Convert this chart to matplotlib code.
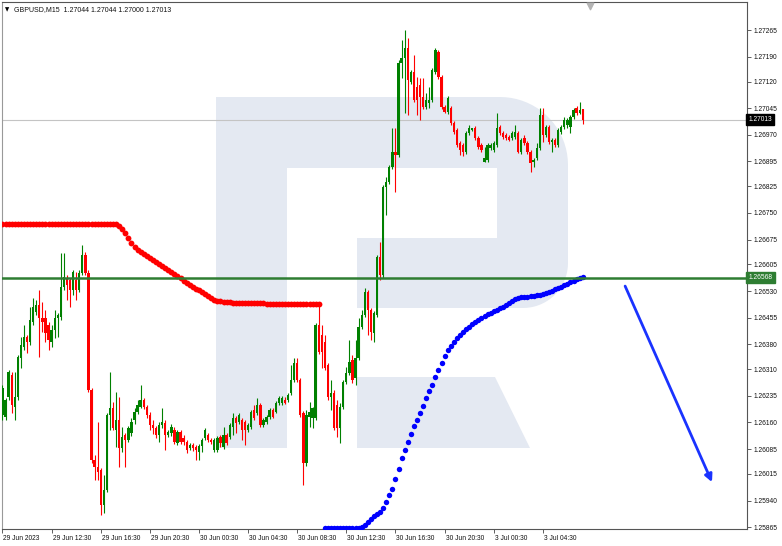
import numpy as np
import matplotlib
matplotlib.use("Agg")
import matplotlib.pyplot as plt
import matplotlib.transforms as mtransforms
from matplotlib.patches import Polygon

plt.rcParams['font.family'] = ['Liberation Sans', 'DejaVu Sans']

symbol = "GBPUSD,M15"

# M15 candles, 29 Jun 08:30 -> 3 Jul 08:00
opens = [
    1.26181, 1.26175, 1.26231, 1.26294, 1.26203, 1.26231, 1.26341, 1.26372, 1.26400, 1.26386,
    1.26443, 1.26471, 1.26491, 1.26454, 1.26454, 1.26435, 1.26386, 1.26420, 1.26454, 1.26457,
    1.26541, 1.26566, 1.26561, 1.26533, 1.26561, 1.26533, 1.26581, 1.26632, 1.26581, 1.26251,
    1.26054, 1.26034, 1.26026, 1.25928, 1.25970, 1.26181, 1.26200, 1.26139, 1.26167, 1.26088,
    1.26125, 1.26111, 1.26131, 1.26167, 1.26189, 1.26203, 1.26223, 1.26203, 1.26181, 1.26153,
    1.26144, 1.26125, 1.26153, 1.26159, 1.26125, 1.26131, 1.26139, 1.26103, 1.26133, 1.26116,
    1.26105, 1.26088, 1.26097, 1.26091, 1.26076, 1.26094, 1.26116, 1.26125, 1.26111, 1.26082,
    1.26082, 1.26119, 1.26091, 1.26125, 1.26119, 1.26147, 1.26172, 1.26161, 1.26167, 1.26161,
    1.26139, 1.26147, 1.26195, 1.26187, 1.26209, 1.26153, 1.26161, 1.26175, 1.26195, 1.26189,
    1.26214, 1.26214, 1.26223, 1.26223, 1.26243, 1.26280, 1.26328, 1.26280, 1.26187, 1.26046,
    1.26175, 1.26172, 1.26172, 1.26435, 1.26406, 1.26386, 1.26322, 1.26231, 1.26243, 1.26209,
    1.26144, 1.26203, 1.26274, 1.26300, 1.26336, 1.26286, 1.26341, 1.26429, 1.26463, 1.26527,
    1.26477, 1.26412, 1.26463, 1.26626, 1.26575, 1.26823, 1.26837, 1.26879, 1.26921, 1.26913,
    1.27173, 1.27187, 1.27214, 1.27119, 1.27147, 1.27105, 1.27111, 1.27077, 1.27048, 1.27060,
    1.27068, 1.27147, 1.27203, 1.27133, 1.27048, 1.27034, 1.27046, 1.27004, 1.26984, 1.26947,
    1.26942, 1.26921, 1.26976, 1.26984, 1.26989, 1.26962, 1.26942, 1.26893, 1.26899, 1.26933,
    1.26927, 1.26942, 1.26992, 1.26976, 1.26970, 1.26964, 1.26962, 1.26964, 1.26976, 1.26921,
    1.26962, 1.26947, 1.26921, 1.26893, 1.26904, 1.26933, 1.27026, 1.26970, 1.26992, 1.26950,
    1.26956, 1.26942, 1.26978, 1.26992, 1.26998, 1.26992, 1.27020, 1.27046, 1.27032, 1.27044,
]
highs = [
    1.26266, 1.26228, 1.26308, 1.26302, 1.26302, 1.26350, 1.26400, 1.26435, 1.26406, 1.26485,
    1.26510, 1.26505, 1.26533, 1.26499, 1.26477, 1.26443, 1.26435, 1.26477, 1.26469, 1.26638,
    1.26638, 1.26575, 1.26566, 1.26589, 1.26583, 1.26589, 1.26660, 1.26640, 1.26589, 1.26257,
    1.26068, 1.26161, 1.26031, 1.26012, 1.26187, 1.26302, 1.26217, 1.26245, 1.26231, 1.26147,
    1.26131, 1.26150, 1.26172, 1.26200, 1.26223, 1.26266, 1.26228, 1.26209, 1.26189, 1.26167,
    1.26150, 1.26161, 1.26200, 1.26167, 1.26139, 1.26156, 1.26147, 1.26139, 1.26139, 1.26125,
    1.26111, 1.26103, 1.26103, 1.26097, 1.26100, 1.26116, 1.26144, 1.26131, 1.26116, 1.26116,
    1.26122, 1.26125, 1.26147, 1.26131, 1.26159, 1.26187, 1.26178, 1.26187, 1.26172, 1.26167,
    1.26159, 1.26195, 1.26209, 1.26228, 1.26214, 1.26172, 1.26181, 1.26200, 1.26200, 1.26220,
    1.26234, 1.26234, 1.26231, 1.26243, 1.26322, 1.26341, 1.26341, 1.26286, 1.26192, 1.26195,
    1.26217, 1.26203, 1.26441, 1.26499, 1.26435, 1.26406, 1.26328, 1.26280, 1.26251, 1.26223,
    1.26214, 1.26280, 1.26316, 1.26392, 1.26350, 1.26392, 1.26454, 1.26477, 1.26539, 1.26533,
    1.26482, 1.26474, 1.26632, 1.26668, 1.26829, 1.26851, 1.26885, 1.26989, 1.26989, 1.27181,
    1.27237, 1.27265, 1.27243, 1.27153, 1.27195, 1.27133, 1.27130, 1.27130, 1.27088, 1.27105,
    1.27158, 1.27214, 1.27209, 1.27139, 1.27054, 1.27079, 1.27051, 1.27009, 1.26989, 1.26953,
    1.26947, 1.26981, 1.26998, 1.26989, 1.26995, 1.26967, 1.26947, 1.26936, 1.26947, 1.26947,
    1.26953, 1.27032, 1.26998, 1.26981, 1.26976, 1.26970, 1.26981, 1.26998, 1.26981, 1.26962,
    1.26970, 1.26953, 1.26927, 1.26904, 1.26947, 1.27046, 1.27046, 1.26998, 1.26998, 1.26962,
    1.26962, 1.26989, 1.26998, 1.27020, 1.27018, 1.27026, 1.27046, 1.27051, 1.27062, 1.27044,
]
lows = [
    1.26167, 1.26167, 1.26223, 1.26187, 1.26167, 1.26223, 1.26313, 1.26364, 1.26356, 1.26378,
    1.26435, 1.26463, 1.26344, 1.26414, 1.26386, 1.26364, 1.26372, 1.26397, 1.26400, 1.26449,
    1.26533, 1.26505, 1.26485, 1.26519, 1.26505, 1.26527, 1.26575, 1.26575, 1.26245, 1.26046,
    1.25998, 1.25998, 1.25899, 1.25905, 1.25964, 1.26139, 1.26139, 1.26091, 1.26034, 1.26076,
    1.26034, 1.26105, 1.26122, 1.26156, 1.26184, 1.26200, 1.26198, 1.26172, 1.26139, 1.26128,
    1.26116, 1.26105, 1.26144, 1.26082, 1.26119, 1.26122, 1.26100, 1.26097, 1.26100, 1.26097,
    1.26074, 1.26082, 1.26079, 1.26054, 1.26054, 1.26076, 1.26111, 1.26105, 1.26100, 1.26076,
    1.26076, 1.26091, 1.26086, 1.26097, 1.26114, 1.26125, 1.26131, 1.26156, 1.26111, 1.26097,
    1.26133, 1.26142, 1.26167, 1.26181, 1.26147, 1.26147, 1.26156, 1.26170, 1.26172, 1.26187,
    1.26209, 1.26209, 1.26212, 1.26217, 1.26237, 1.26274, 1.26274, 1.26175, 1.25984, 1.26037,
    1.26147, 1.26144, 1.26167, 1.26353, 1.26313, 1.26308, 1.26223, 1.26195, 1.26139, 1.26119,
    1.26103, 1.26198, 1.26269, 1.26294, 1.26272, 1.26266, 1.26336, 1.26424, 1.26457, 1.26406,
    1.26392, 1.26386, 1.26457, 1.26561, 1.26566, 1.26744, 1.26832, 1.26874, 1.26809, 1.26907,
    1.27130, 1.27032, 1.27026, 1.27114, 1.27062, 1.27026, 1.27012, 1.27043, 1.27043, 1.27046,
    1.27062, 1.27142, 1.27128, 1.27043, 1.27032, 1.27029, 1.26998, 1.26973, 1.26936, 1.26913,
    1.26910, 1.26916, 1.26970, 1.26981, 1.26956, 1.26930, 1.26921, 1.26893, 1.26893, 1.26927,
    1.26921, 1.26936, 1.26970, 1.26959, 1.26956, 1.26953, 1.26956, 1.26959, 1.26918, 1.26916,
    1.26942, 1.26916, 1.26865, 1.26879, 1.26899, 1.26927, 1.26950, 1.26964, 1.26945, 1.26921,
    1.26936, 1.26936, 1.26973, 1.26987, 1.26989, 1.26976, 1.27015, 1.27026, 1.27029, 1.27000,
]
closes = [
    1.26257, 1.26223, 1.26302, 1.26209, 1.26231, 1.26344, 1.26378, 1.26400, 1.26386, 1.26449,
    1.26485, 1.26491, 1.26454, 1.26443, 1.26412, 1.26392, 1.26420, 1.26454, 1.26463, 1.26541,
    1.26569, 1.26547, 1.26533, 1.26583, 1.26533, 1.26581, 1.26632, 1.26581, 1.26251, 1.26054,
    1.26034, 1.26020, 1.25928, 1.25970, 1.26181, 1.26200, 1.26144, 1.26167, 1.26088, 1.26119,
    1.26111, 1.26144, 1.26161, 1.26189, 1.26209, 1.26223, 1.26203, 1.26181, 1.26153, 1.26144,
    1.26125, 1.26153, 1.26161, 1.26125, 1.26133, 1.26147, 1.26105, 1.26133, 1.26105, 1.26105,
    1.26082, 1.26097, 1.26088, 1.26082, 1.26094, 1.26111, 1.26139, 1.26111, 1.26105, 1.26111,
    1.26116, 1.26103, 1.26125, 1.26103, 1.26153, 1.26172, 1.26159, 1.26181, 1.26139, 1.26139,
    1.26153, 1.26189, 1.26172, 1.26209, 1.26153, 1.26167, 1.26175, 1.26195, 1.26175, 1.26214,
    1.26228, 1.26228, 1.26214, 1.26237, 1.26280, 1.26328, 1.26280, 1.26181, 1.26046, 1.26181,
    1.26189, 1.26200, 1.26435, 1.26358, 1.26358, 1.26313, 1.26231, 1.26243, 1.26144, 1.26144,
    1.26203, 1.26274, 1.26300, 1.26330, 1.26280, 1.26341, 1.26429, 1.26463, 1.26527, 1.26477,
    1.26414, 1.26469, 1.26626, 1.26575, 1.26823, 1.26837, 1.26879, 1.26921, 1.26913, 1.27173,
    1.27187, 1.27214, 1.27125, 1.27147, 1.27068, 1.27068, 1.27077, 1.27048, 1.27068, 1.27068,
    1.27153, 1.27209, 1.27133, 1.27048, 1.27034, 1.27074, 1.27004, 1.26978, 1.26942, 1.26927,
    1.26921, 1.26976, 1.26989, 1.26989, 1.26962, 1.26936, 1.26927, 1.26904, 1.26942, 1.26942,
    1.26947, 1.26989, 1.26976, 1.26964, 1.26962, 1.26956, 1.26976, 1.26978, 1.26921, 1.26956,
    1.26947, 1.26921, 1.26891, 1.26899, 1.26933, 1.27026, 1.26970, 1.26992, 1.26950, 1.26956,
    1.26942, 1.26984, 1.26992, 1.27012, 1.27012, 1.27020, 1.27040, 1.27032, 1.27040, 1.27013,
]

# red dotted indicator (bars 0..103)
red_line = [
    1.26719, 1.26719, 1.26719, 1.26719, 1.26719, 1.26719, 1.26719, 1.26719, 1.26719, 1.26719,
    1.26719, 1.26719, 1.26719, 1.26719, 1.26719, 1.26719, 1.26719, 1.26719, 1.26719, 1.26719,
    1.26719, 1.26719, 1.26719, 1.26719, 1.26719, 1.26719, 1.26719, 1.26719, 1.26719, 1.26719,
    1.26719, 1.26719, 1.26719, 1.26719, 1.26719, 1.26719, 1.26719, 1.26719, 1.26713, 1.26705,
    1.26694, 1.26680, 1.26666, 1.26654, 1.26646, 1.26640, 1.26635, 1.26629, 1.26623, 1.26618,
    1.26612, 1.26607, 1.26601, 1.26595, 1.26589, 1.26583, 1.26578, 1.26572, 1.26566, 1.26558,
    1.26553, 1.26547, 1.26541, 1.26536, 1.26533, 1.26527, 1.26522, 1.26516, 1.26510, 1.26505,
    1.26502, 1.26502, 1.26499, 1.26499, 1.26499, 1.26496, 1.26496, 1.26496, 1.26496, 1.26496,
    1.26496, 1.26496, 1.26496, 1.26496, 1.26496, 1.26496, 1.26494, 1.26494, 1.26494, 1.26494,
    1.26494, 1.26494, 1.26494, 1.26494, 1.26494, 1.26494, 1.26494, 1.26494, 1.26494, 1.26494,
    1.26494, 1.26494, 1.26494, 1.26494,
]
red_start = 0

# blue dotted indicator (bars 105..189)
blue_line = [
    1.25862, 1.25862, 1.25862, 1.25862, 1.25862, 1.25862, 1.25862, 1.25862, 1.25862, 1.25862,
    1.25862, 1.25862, 1.25865, 1.25871, 1.25879, 1.25888, 1.25896, 1.25902, 1.25907, 1.25919,
    1.25936, 1.25956, 1.25973, 1.26001, 1.26029, 1.26059, 1.26082, 1.26105, 1.26128, 1.26150,
    1.26167, 1.26187, 1.26206, 1.26228, 1.26248, 1.26266, 1.26288, 1.26308, 1.26328, 1.26347,
    1.26364, 1.26375, 1.26386, 1.26397, 1.26406, 1.26414, 1.26423, 1.26429, 1.26438, 1.26443,
    1.26449, 1.26454, 1.26460, 1.26466, 1.26469, 1.26474, 1.26477, 1.26482, 1.26485, 1.26491,
    1.26496, 1.26502, 1.26508, 1.26510, 1.26513, 1.26513, 1.26513, 1.26516, 1.26516, 1.26519,
    1.26519, 1.26522, 1.26524, 1.26527, 1.26530, 1.26536, 1.26539, 1.26541, 1.26547, 1.26550,
    1.26555, 1.26558, 1.26564, 1.26566, 1.26569,
]
blue_start = 105

time_ticks = [0, 16, 32, 48, 64, 80, 96, 112, 128, 144, 160, 176]
time_labels = ["29 Jun 2023", "29 Jun 12:30", "29 Jun 16:30", "29 Jun 20:30",
               "30 Jun 00:30", "30 Jun 04:30", "30 Jun 08:30", "30 Jun 12:30",
               "30 Jun 16:30", "30 Jun 20:30", "3 Jul 00:30", "3 Jul 04:30"]
price_ticks = [1.27265, 1.27190, 1.27120, 1.27045, 1.26970, 1.26895, 1.26825, 1.26750,
               1.26675, 1.26605, 1.26530, 1.26455, 1.26380, 1.26310, 1.26235, 1.26160,
               1.26085, 1.26015, 1.25940, 1.25865]

level_price = 1.26568
arrow_from = (202.8, 1.26544)
arrow_to = (231.1, 1.25992)
chart_shift_bar = 191.5

# canvas / plot area in pixels
W, H = 782, 546
L, R, T, B = 2, 747, 2, 529

fig = plt.figure(figsize=(W / 100, H / 100), dpi=100)
fig.patch.set_facecolor("white")
ax = fig.add_axes([L / W, 1 - B / H, (R - L) / W, (B - T) / H])
ax.set_xlim(-0.16, 242.5)
ax.set_ylim(1.25860, 1.27344)


def px(x, y):
    return ((x - L) / (R - L), (B - y) / (B - T))


# watermark logo
wm = "#e4e9f2"
def rect(x0, y0, x1, y1):
    return [px(x0, y0), px(x1, y0), px(x1, y1), px(x0, y1)]

for pts in (rect(216, 97, 287, 448), rect(286, 97, 500, 168), rect(357, 238, 500, 308)):
    ax.add_patch(Polygon(pts, closed=True, fc=wm, ec="none", transform=ax.transAxes, zorder=0))

bowl = [px(497, 97), px(500, 97)]
for a in np.linspace(90, 0, 20):
    bowl.append(px(500 + 68 * np.cos(np.radians(a)), 165 - 68 * np.sin(np.radians(a))))
for a in np.linspace(0, 90, 20):
    bowl.append(px(523 + 45 * np.cos(np.radians(a)), 263 + 45 * np.sin(np.radians(a))))
bowl.append(px(497, 308))
ax.add_patch(Polygon(bowl, closed=True, fc=wm, ec="none", transform=ax.transAxes, zorder=0))
leg = [px(357, 377), px(495, 377), px(530, 448), px(357, 448)]
ax.add_patch(Polygon(leg, closed=True, fc=wm, ec="none", transform=ax.transAxes, zorder=0))

# candles
o = np.array(opens); h = np.array(highs); l = np.array(lows); c = np.array(closes)
x = np.arange(len(o))
cols = np.where(c >= o, "#008000", "#ff0000")
ax.vlines(x, l, h, colors=cols, linewidth=0.8, zorder=3)
body = np.maximum(np.abs(c - o), 0.00003)
ax.bar(x, body, bottom=np.minimum(o, c), width=0.75, color=cols, linewidth=0, zorder=4)

# indicators
ax.plot(np.arange(red_start, red_start + len(red_line)), red_line, "o", ms=4.2,
        color="#ff0000", mew=0, zorder=5)
ax.plot(np.arange(blue_start, blue_start + len(blue_line)), blue_line, "o", ms=3.9,
        color="#0000ff", mew=0, zorder=5)

# level line and last price line
ax.axhline(level_price, color="#2e7d32", lw=1.8, zorder=6)
ax.axhline(closes[-1], color="#c4c4c4", lw=0.8, zorder=2)

ax.annotate("", xy=arrow_to, xytext=arrow_from,
            arrowprops=dict(arrowstyle="-|>", color="#1a33ff", lw=2.0,
                            mutation_scale=11, shrinkA=0, shrinkB=0), zorder=7)

# chart shift marker
blend = mtransforms.blended_transform_factory(ax.transData, ax.transAxes)
ax.scatter([chart_shift_bar], [0.993], marker="v", s=22, color="#b4b4b4",
           transform=blend, clip_on=False, zorder=8)

# axes styling
for side, sp in ax.spines.items():
    sp.set_color("#555555")
    sp.set_linewidth(0.8)
ax.spines["left"].set_color("#999999")

ax.yaxis.tick_right()
ax.set_yticks(price_ticks)
ax.set_yticklabels([f"{p:.5f}" for p in price_ticks])
ax.tick_params(axis="y", labelsize=4.8, length=3, width=0.6, pad=1.5,
               colors="#444444", labelcolor="#111111")
ax.set_xticks(time_ticks)
ax.set_xticklabels(time_labels)
ax.tick_params(axis="x", labelsize=4.8, length=3, width=0.6, pad=1.5,
               colors="#444444", labelcolor="#111111")
offset = mtransforms.ScaledTranslation(1 / 100, 0, fig.dpi_scale_trans)
for lbl in ax.get_xticklabels():
    lbl.set_ha("left")
    lbl.set_transform(lbl.get_transform() + offset)

# price tags on the right scale
ytag = mtransforms.blended_transform_factory(ax.transAxes, ax.transData)
ax.text(1.002, closes[-1], f"{closes[-1]:.5f}", transform=ytag, fontsize=4.8,
        color="white", va="center", ha="left", zorder=10,
        bbox=dict(boxstyle="square,pad=0.35", fc="black", ec="black"))
ax.text(1.002, level_price, f"{level_price:.5f}", transform=ytag, fontsize=4.8,
        color="white", va="center", ha="left", zorder=10,
        bbox=dict(boxstyle="square,pad=0.35", fc="#2e7d32", ec="#2e7d32"))

# header
fig.text(5 / W, 1 - 9.5 / H, "\u25bc", fontsize=4, color="black", va="center",
         family="DejaVu Sans")
fig.text(14 / W, 1 - 9.5 / H,
         f"{symbol}  {opens[-1]:.5f} {highs[-1]:.5f} {lows[-1]:.5f} {closes[-1]:.5f}",
         fontsize=5, color="#111111", va="center")

fig.savefig("out.png", dpi=100, facecolor="white")
